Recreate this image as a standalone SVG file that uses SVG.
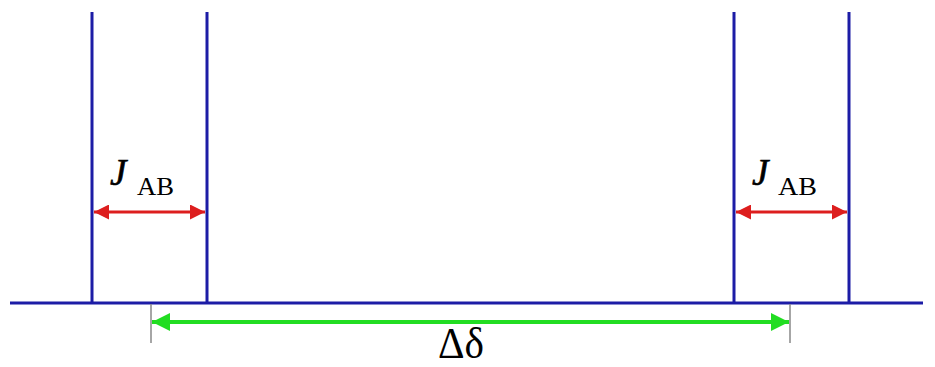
<svg xmlns="http://www.w3.org/2000/svg" width="935" height="367" viewBox="0 0 935 367">
<style>
.blue{stroke:#1c1ca6;stroke-width:3;fill:none}
.red{stroke:#dd1e1e;stroke-width:3;fill:none}
.green{stroke:#22dd22;stroke-width:4;fill:none}
.tick{stroke:#888;stroke-width:1.5}
.j{font-family:"Liberation Serif",serif;font-style:italic;font-size:37px;fill:#000;stroke:#000;stroke-width:0.6}
.sub{font-family:"Liberation Serif",serif;font-size:26px;fill:#000}
.lbl{font-family:"Liberation Serif",serif;font-size:44px;fill:#000}
</style>
<defs>
<marker id="ar" viewBox="0 0 10 10" refX="10" refY="5" markerWidth="5" markerHeight="5" orient="auto-start-reverse" markerUnits="strokeWidth"><path d="M0,0L10,5L0,10z" fill="#dd1e1e"/></marker>
<marker id="ag" viewBox="0 0 10 10" refX="10" refY="5" markerWidth="4.5" markerHeight="4.5" orient="auto-start-reverse" markerUnits="strokeWidth"><path d="M0,0L10,5L0,10z" fill="#22dd22"/></marker>
</defs>
<rect width="935" height="367" fill="#fff"/>
<g id="baseline"><line class="blue" x1="10" y1="303" x2="923" y2="303"/></g>
<g id="peak1"><line class="blue" x1="92" y1="12" x2="92" y2="303"/></g>
<g id="peak2"><line class="blue" x1="207" y1="12" x2="207" y2="303"/></g>
<g id="peak3"><line class="blue" x1="734" y1="12" x2="734" y2="303"/></g>
<g id="peak4"><line class="blue" x1="849" y1="12" x2="849" y2="303"/></g>
<g id="ticks">
<line class="tick" x1="151" y1="304" x2="151" y2="343"/>
<line class="tick" x1="790" y1="304" x2="790" y2="343"/>
</g>
<g id="connectors">
<line class="red" x1="94" y1="212" x2="205" y2="212" marker-start="url(#ar)" marker-end="url(#ar)"/>
<line class="red" x1="736" y1="212" x2="847" y2="212" marker-start="url(#ar)" marker-end="url(#ar)"/>
<line class="green" x1="152" y1="322" x2="789" y2="322" marker-start="url(#ag)" marker-end="url(#ag)"/>
</g>
<g id="label-j1"><text class="j" x="110" y="185">J</text><text class="sub" x="137" y="195" textLength="37" lengthAdjust="spacingAndGlyphs">AB</text></g>
<g id="label-j2"><text class="j" x="752" y="185">J</text><text class="sub" x="778" y="195" textLength="39" lengthAdjust="spacingAndGlyphs">AB</text></g>
<g id="label-delta"><text class="lbl" x="438" y="358" textLength="46" lengthAdjust="spacingAndGlyphs">Δδ</text></g>
</svg>
